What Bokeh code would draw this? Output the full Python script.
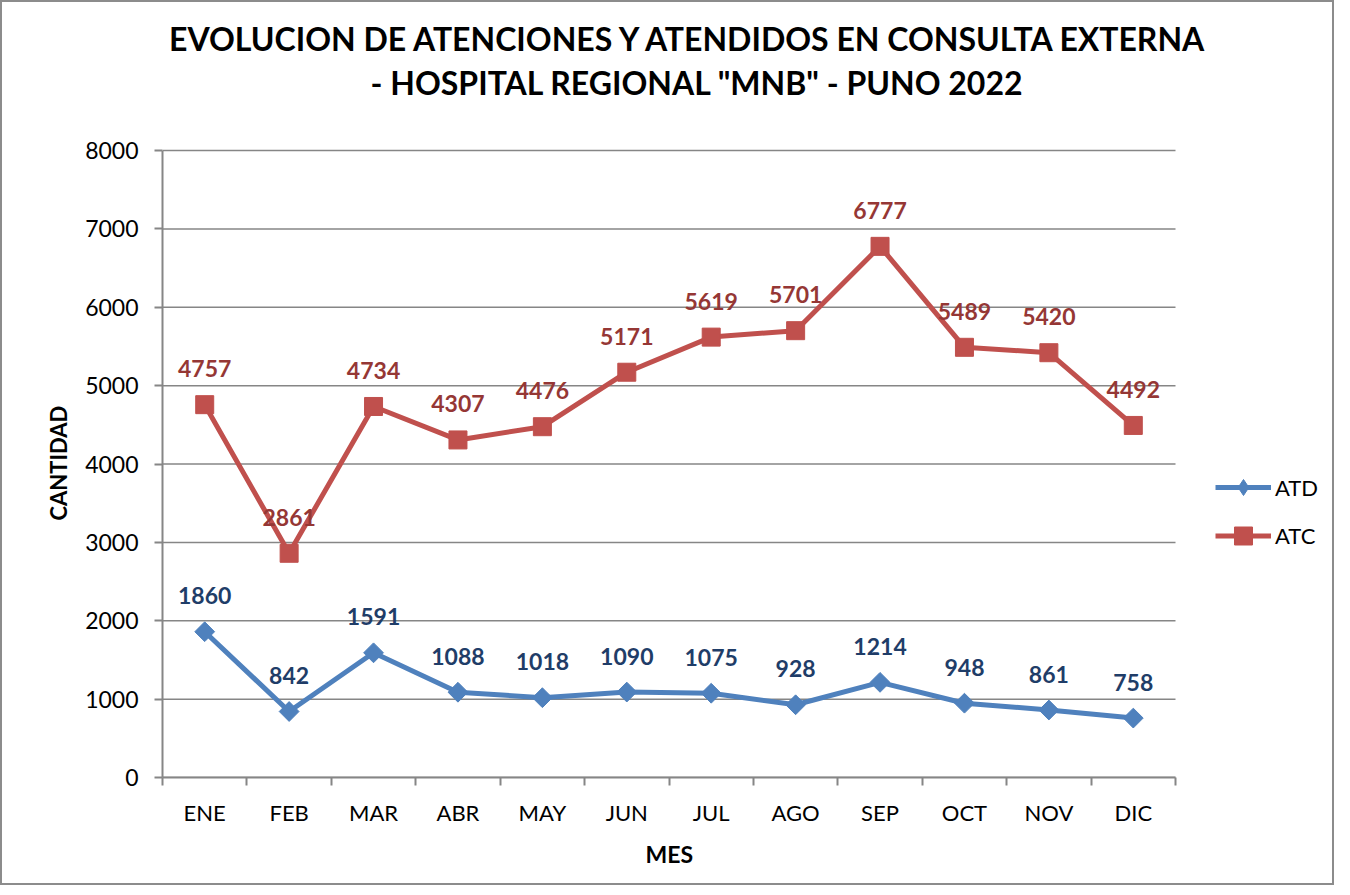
import math
from bokeh.plotting import figure
from bokeh.models import (Range1d, FixedTicker, Title, Legend, LegendItem, Label,
                          ColumnDataSource)
from bokeh.core.properties import value
from bokeh.embed import file_html
from bokeh.resources import INLINE

months = ["ENE", "FEB", "MAR", "ABR", "MAY", "JUN", "JUL", "AGO", "SEP", "OCT", "NOV", "DIC"]
atd = [1860, 842, 1591, 1088, 1018, 1090, 1075, 928, 1214, 948, 861, 758]
atc = [4757, 2861, 4734, 4307, 4476, 5171, 5619, 5701, 6777, 5489, 5420, 4492]
y_ticks = [0, 1000, 2000, 3000, 4000, 5000, 6000, 7000, 8000]
title_lines = ["EVOLUCION DE ATENCIONES Y  ATENDIDOS EN CONSULTA EXTERNA",
               '- HOSPITAL REGIONAL "MNB" - PUNO 2022']

FONT = "Lato"
GRAY = "#868686"
BLUE = "#4F81BD"
RED = "#C0504D"

# ---- layout (page pixels) ----
FIG_W, FIG_H = 1334, 885
MIN_RIGHT = 5
PX_LEFT, PX_AXIS_RIGHT, PX_TOP8000, PX_ZERO = 160, 1173, 150, 777
FRAME_TOP_PX, FRAME_RIGHT_PX = 10, FIG_W - MIN_RIGHT
n = len(months)
y_max = y_ticks[-1]
ppx = (PX_AXIS_RIGHT - PX_LEFT) / n
ppy = (PX_ZERO - PX_TOP8000) / y_max
X_END = (FRAME_RIGHT_PX - PX_LEFT) / ppx
Y_END = (PX_ZERO - FRAME_TOP_PX) / ppy


def dx(px):
    return (px - PX_LEFT) / ppx


def dy(py):
    return (PX_ZERO - py) / ppy


xs = [i + 0.5 for i in range(n)]
src = ColumnDataSource(dict(x=xs, atd=atd, atc=atc,
                            atd_t=[str(v) for v in atd], atc_t=[str(v) for v in atc]))

p = figure(width=FIG_W, height=FIG_H, output_backend="svg", toolbar_location=None,
           x_range=Range1d(0, X_END), y_range=Range1d(0, Y_END),
           min_border_left=PX_LEFT, min_border_right=MIN_RIGHT, min_border_top=8,
           min_border_bottom=110)
p.outline_line_color = None
p.background_fill_color = "white"
p.border_fill_color = "white"
p.styles = {"border": "2px solid #8c8c8c"}

# axes
p.xaxis.ticker = FixedTicker(ticks=xs, minor_ticks=list(range(n + 1)))
p.xaxis.major_label_overrides = {x: m for x, m in zip(xs, months)}
p.xaxis.bounds = (0, n)
p.xaxis.major_tick_out = 0
p.xaxis.major_tick_in = 0
p.xaxis.minor_tick_out = 8
p.xaxis.minor_tick_in = 0
p.xaxis.minor_tick_line_color = GRAY
p.xaxis.minor_tick_line_width = 2
p.xaxis.major_label_standoff = 13

p.yaxis.ticker = FixedTicker(ticks=y_ticks)
p.yaxis.bounds = (0, y_max)
p.yaxis.minor_tick_line_color = None
p.yaxis.major_tick_out = 8
p.yaxis.major_tick_in = 0
p.yaxis.major_tick_line_color = GRAY
p.yaxis.major_tick_line_width = 2
p.yaxis.major_label_standoff = 16

for ax in (p.xaxis, p.yaxis):
    ax.axis_line_color = GRAY
    ax.axis_line_width = 2
    ax.major_label_text_font = FONT
    ax.major_label_text_font_size = "22px"
    ax.major_label_text_color = "black"
p.yaxis.major_label_text_font_size = "23px"

# axis titles
ylab = Title(text="CANTIDAD", align="left", offset=257, standoff=22,
             text_font=FONT, text_font_size="22px", text_font_style="bold", text_color="black")
p.add_layout(ylab, "left")
xlab = Title(text="MES", align="left", offset=483, standoff=18,
             text_font=FONT, text_font_size="23px", text_font_style="bold", text_color="black")
p.add_layout(xlab, "below")

# grid
p.xgrid.grid_line_color = None
p.ygrid.grid_line_color = None
p.segment(x0=[0] * len(y_ticks), x1=[n] * len(y_ticks), y0=y_ticks, y1=y_ticks,
          line_color=GRAY, line_width=1.5)

# chart title
for txt, (cx, cy) in zip(title_lines, [(691, 38), (695, 82)]):
    p.add_layout(Label(x=dx(cx), y=dy(cy), text=txt, text_align="center", text_baseline="middle",
                       text_font=FONT, text_font_size="32px", text_font_style="bold",
                       text_color="black"))

# series
l1 = p.line("x", "atd", source=src, line_color=BLUE, line_width=5)
# diamond glyph used for the legend (hidden under the rotated squares)
s1_leg = p.scatter("x", "atd", source=src, marker="diamond", size=16,
                   fill_color=BLUE, line_color=BLUE)
s1 = p.scatter("x", "atd", source=src, marker="square", angle=math.pi / 4, size=14,
               fill_color=BLUE, line_color=BLUE)
l2 = p.line("x", "atc", source=src, line_color=RED, line_width=5)
s2 = p.scatter("x", "atc", source=src, marker="square", size=18, fill_color=RED, line_color=RED)

p.text("x", "atd", text="atd_t", source=src, text_align="center", text_baseline="middle",
       y_offset=-36, text_font=value(FONT), text_font_size="23px", text_font_style="bold",
       text_color="#1F3D68")
p.text("x", "atc", text="atc_t", source=src, text_align="center", text_baseline="middle",
       y_offset=-36, text_font=value(FONT), text_font_size="23px", text_font_style="bold",
       text_color="#953735")

common = dict(orientation="vertical", label_text_font=FONT, label_text_font_size="22px",
              label_text_color="black", glyph_width=56, padding=0, margin=0, spacing=0,
              label_standoff=4, border_line_color=None, background_fill_alpha=0)
leg1 = Legend(items=[LegendItem(label="ATD", renderers=[l1, s1_leg])],
              location=(1213 - PX_LEFT, PX_ZERO - 487 - 20), glyph_height=40, label_height=40,
              **common)
leg2 = Legend(items=[LegendItem(label="ATC", renderers=[l2, s2])],
              location=(1213 - PX_LEFT, PX_ZERO - 535 - 22.5), glyph_height=45, label_height=45,
              **common)
p.add_layout(leg1, "center")
p.add_layout(leg2, "center")

open("out.html", "w").write(file_html(p, INLINE))
